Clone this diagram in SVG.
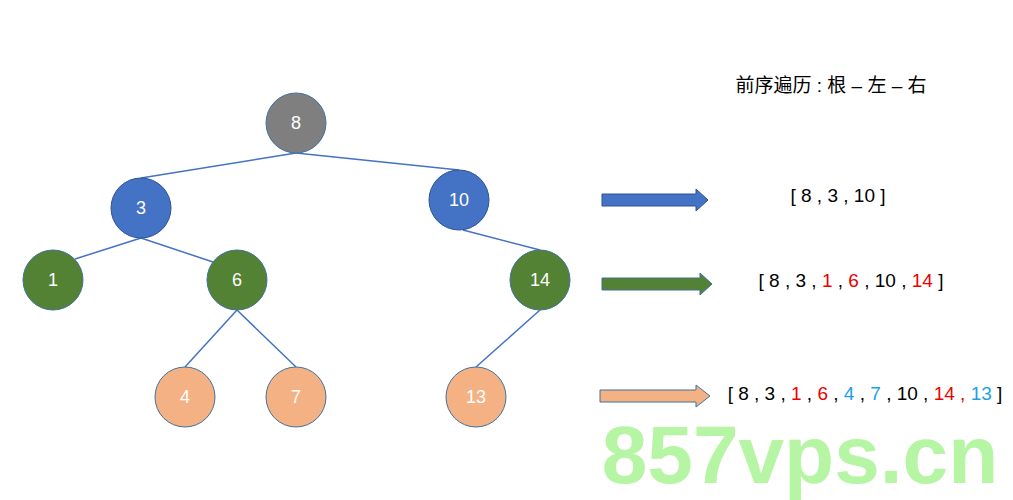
<svg xmlns="http://www.w3.org/2000/svg" width="1013" height="500" viewBox="0 0 1013 500">
<style>
.t{font-family:"Liberation Sans","Noto Sans CJK SC",sans-serif;font-size:19px;text-anchor:middle}
.w{fill:#fff;dominant-baseline:central;font-size:18px}
.e{stroke:#4472c4;stroke-width:1.5;fill:none}
.r{fill:#e00}.c{fill:#1ba1e2}
</style>
<rect width="1013" height="500" fill="#fff"/>
<g id="edges">
<line class="e" x1="296" y1="153" x2="141" y2="178"/>
<line class="e" x1="296" y1="153" x2="459" y2="170"/>
<line class="e" x1="141" y1="238" x2="75" y2="259"/>
<line class="e" x1="141" y1="238" x2="213" y2="262"/>
<line class="e" x1="463" y1="230" x2="540" y2="250"/>
<line class="e" x1="237" y1="310" x2="185" y2="367"/>
<line class="e" x1="237" y1="310" x2="296" y2="367"/>
<line class="e" x1="540" y1="310" x2="476" y2="367"/>
</g>
<g id="n8"><ellipse cx="296" cy="123" rx="30" ry="30" fill="#7f7f7f" stroke="#41719c"/><text class="t w" x="296" y="123">8</text></g>
<g id="n3"><ellipse cx="141" cy="208" rx="30" ry="30" fill="#4472c4" stroke="#2f528f"/><text class="t w" x="141" y="208">3</text></g>
<g id="n10"><ellipse cx="459" cy="200" rx="30" ry="30" fill="#4472c4" stroke="#2f528f"/><text class="t w" x="459" y="200">10</text></g>
<g id="n1"><ellipse cx="53" cy="280" rx="30" ry="30" fill="#548235" stroke="#41719c"/><text class="t w" x="53" y="280">1</text></g>
<g id="n6"><ellipse cx="237" cy="280" rx="30" ry="30" fill="#548235" stroke="#41719c"/><text class="t w" x="237" y="280">6</text></g>
<g id="n14"><ellipse cx="540" cy="280" rx="30" ry="30" fill="#548235" stroke="#41719c"/><text class="t w" x="540" y="280">14</text></g>
<g id="n4"><ellipse cx="185" cy="397" rx="30" ry="30" fill="#f4b183" stroke="#41719c"/><text class="t w" x="185" y="397">4</text></g>
<g id="n7"><ellipse cx="296" cy="397" rx="30" ry="30" fill="#f4b183" stroke="#41719c"/><text class="t w" x="296" y="397">7</text></g>
<g id="n13"><ellipse cx="476" cy="397" rx="30" ry="30" fill="#f4b183" stroke="#41719c"/><text class="t w" x="476" y="397">13</text></g>
<g id="arrows">
<path d="M602,194 H696 V189 L708,200 L696,211 V206 H602 Z" fill="#4472c4" stroke="#2f528f"/>
<path d="M602,278 H700 V273 L712,284 L700,295 V290 H602 Z" fill="#548235" stroke="#41719c"/>
<path d="M600,390 H696 V385 L710,396 L696,407 V402 H600 Z" fill="#f4b183" stroke="#41719c"/>
</g>
<g id="texts" class="t">
<text x="831" y="92">前序遍历 : 根 – 左 – 右</text>
<text x="838" y="202">[ 8 , 3 , 10 ]</text>
<text x="851" y="287">[ 8 , 3 , <tspan class="r">1</tspan> , <tspan class="r">6</tspan> , 10 , <tspan class="r">14</tspan> ]</text>
<text x="865" y="400">[ 8 , 3 , <tspan class="r">1</tspan> , <tspan class="r">6</tspan> , <tspan class="c">4</tspan> , <tspan class="c">7</tspan> , 10 , <tspan class="r">14</tspan><tspan class="r"> ,</tspan> <tspan class="c">13</tspan> ]</text>
</g>
<text x="800" y="483" font-family="Liberation Sans,sans-serif" font-weight="bold" font-size="82" fill="#b6f5a4" text-anchor="middle">857vps.cn</text>
</svg>
